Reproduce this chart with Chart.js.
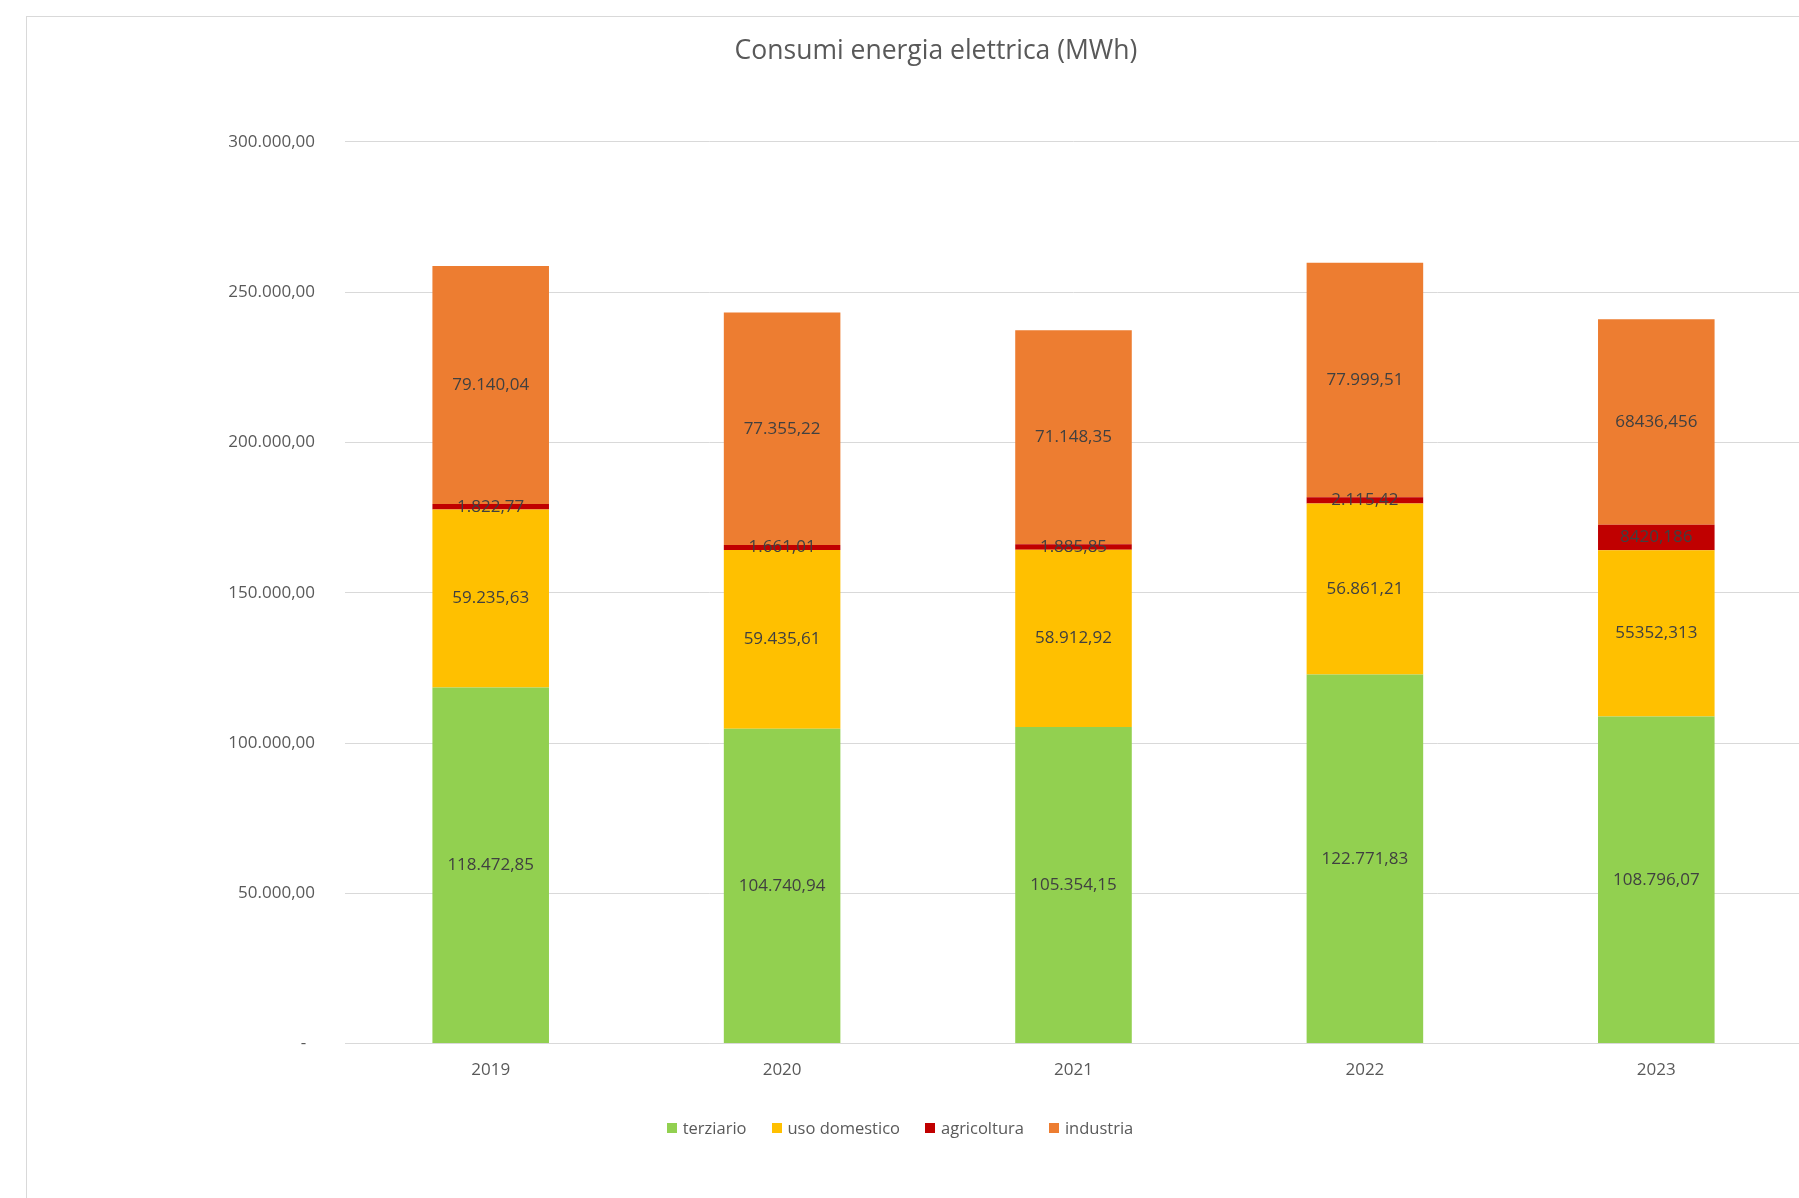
<!DOCTYPE html>
<html>
<head>
<meta charset="utf-8">
<script src="https://cdn.jsdelivr.net/npm/chart.js@4/dist/chart.umd.min.js"></script>
<style>
    html, body { margin: 0; padding: 0; background: #fff; overflow: hidden; }
    body { width: 1799px; height: 1198px; position: relative; font-family: "Open Sans", sans-serif; }
    #card { position: absolute; left: 26px; top: 16px; width: 1818px; height: 1181px;
            border-left: 1px solid #d9d9d9; border-top: 1px solid #d9d9d9; }
    #legend { position: absolute; left: 0; top: 1116px; width: 1800px; display: flex;
              justify-content: center; gap: 25px; font-size: 16.5px; color: #595959; }
    .item { display: flex; align-items: center; }
    .box { width: 10px; height: 10px; margin-right: 6px; }
</style>
</head>
<body>
<div id="card"><canvas id="chartConsumi"></canvas></div>
<div id="legend"></div>
<script>
// anni
const years = ["2019", "2020", "2021", "2022", "2023"];

// consumi per settore (MWh)
const terziario = [118472.85, 104740.94, 105354.15, 122771.83, 108796.07];
const usoDomestico = [59235.63, 59435.61, 58912.92, 56861.21, 55352.313];
const agricoltura = [1822.77, 1661.01, 1885.85, 2115.42, 8420.186];
const industria = [79140.04, 77355.22, 71148.35, 77999.51, 68436.456];

// etichette come nel foglio originale
const lblTerziario = ["118.472,85", "104.740,94", "105.354,15", "122.771,83", "108.796,07"];
const lblDomestico = ["59.235,63", "59.435,61", "58.912,92", "56.861,21", "55352,313"];
const lblAgricoltura = ["1.822,77", "1.661,01", "1.885,85", "2.115,42", "8420,186"];
const lblIndustria = ["79.140,04", "77.355,22", "71.148,35", "77.999,51", "68436,456"];

const yTicks = [0, 50000, 100000, 150000, 200000, 250000, 300000];

const FONT = "'Open Sans', sans-serif";
const GREY = "#595959";

function formatIt(v) {
    let s = Math.round(v).toString().replace(/\B(?=(\d{3})+(?!\d))/g, ".");
    return s + ",00";
}

const series = [
    { label: "terziario", data: terziario, color: "#92D050", labels: lblTerziario },
    { label: "uso domestico", data: usoDomestico, color: "#FFC000", labels: lblDomestico },
    { label: "agricoltura", data: agricoltura, color: "#C00000", labels: lblAgricoltura },
    { label: "industria", data: industria, color: "#ED7D31", labels: lblIndustria }
];

// etichette dentro le barre
const barLabels = {
    id: "barLabels",
    afterDatasetsDraw(chart) {
        const ctx = chart.ctx;
        ctx.save();
        ctx.font = "17px " + FONT;
        ctx.fillStyle = "#404040";
        ctx.textAlign = "center";
        ctx.textBaseline = "middle";
        chart.data.datasets.forEach((ds, i) => {
            chart.getDatasetMeta(i).data.forEach((bar, j) => {
                const yMid = (bar.y + bar.base) / 2;
                ctx.fillText(series[i].labels[j], bar.x, yMid);
            });
        });
        ctx.restore();
    }
};

const ctx = document.getElementById("chartConsumi").getContext("2d");
const chart = new Chart(ctx, {
    type: "bar",
    data: {
        labels: years,
        datasets: series.map(s => ({
            label: s.label,
            data: s.data,
            backgroundColor: s.color,
            borderWidth: 0,
            barPercentage: 0.40,
            categoryPercentage: 1.0
        }))
    },
    options: {
        responsive: true,
        maintainAspectRatio: false,
        animation: false,
        layout: { padding: { top: 0, right: 0, bottom: 102, left: 0 } },
        plugins: {
            legend: { display: false },
            tooltip: { enabled: false },
            title: {
                display: true,
                text: "Consumi energia elettrica (MWh)",
                color: GREY,
                font: { family: FONT, size: 26.5, weight: "normal" },
                padding: { top: 19, bottom: 74 }
            }
        },
        scales: {
            x: {
                stacked: true,
                grid: { display: false, drawTicks: false },
                border: { display: true, color: "#d9d9d9" },
                ticks: { color: GREY, font: { family: FONT, size: 17 }, padding: 16 }
            },
            y: {
                stacked: true,
                min: 0,
                max: 300000,
                afterFit: function(scale) { scale.width = 318; },
                afterBuildTicks: function(scale) { scale.ticks = yTicks.map(v => ({ value: v })); },
                grid: { color: "#d9d9d9", drawTicks: false },
                border: { display: false },
                ticks: {
                    color: GREY,
                    font: { family: FONT, size: 17 },
                    padding: 30,
                    callback: function(value) {
                        if (value === 0) return "-  ";
                        return formatIt(value);
                    }
                }
            },
            // spazio vuoto a destra dell'area del grafico
            yRight: {
                position: "right",
                display: true,
                afterFit: function(scale) { scale.width = 43; },
                grid: { display: false, drawTicks: false },
                border: { display: false },
                ticks: { display: false }
            }
        }
    },
    plugins: [barLabels]
});

// legenda
const legend = document.getElementById("legend");
series.forEach(s => {
    let item = document.createElement("div");
    item.className = "item";
    item.innerHTML = "<span class='box' style='background:" + s.color + "'></span>" + s.label;
    legend.appendChild(item);
});
</script>
</body>
</html>
